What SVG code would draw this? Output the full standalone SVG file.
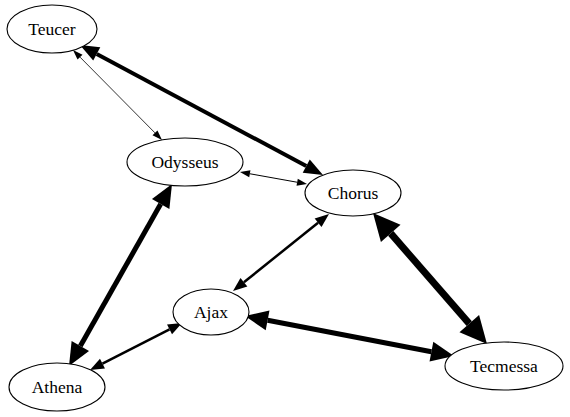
<svg xmlns="http://www.w3.org/2000/svg" width="570" height="417" viewBox="0 0 570 417">
<style>
.node ellipse{fill:#fff;stroke:#000;stroke-width:1.1}
.node text{font-size:17.5px;text-anchor:middle;fill:#000}
.edge{stroke:#000;fill:none}
.mk{fill:#000;stroke:none}
</style>
<defs>
<marker id="a1" markerUnits="userSpaceOnUse" viewBox="0 -4 10 8" markerWidth="10" markerHeight="8" refX="0" refY="0" orient="auto-start-reverse" overflow="visible"><path class="mk" d="M0,-3.5L10,0L0,3.5z"/></marker>
<marker id="a2" markerUnits="userSpaceOnUse" viewBox="0 -6 14 12" markerWidth="14" markerHeight="12" refX="0" refY="0" orient="auto-start-reverse" overflow="visible"><path class="mk" d="M0,-5.5L14,0L0,5.5z"/></marker>
<marker id="a4" markerUnits="userSpaceOnUse" viewBox="0 -8 19 16" markerWidth="19" markerHeight="16" refX="0" refY="0" orient="auto-start-reverse" overflow="visible"><path class="mk" d="M0,-7.5L19,0L0,7.5z"/></marker>
<marker id="a5" markerUnits="userSpaceOnUse" viewBox="0 -10 23 20" markerWidth="23" markerHeight="20" refX="0" refY="0" orient="auto-start-reverse" overflow="visible"><path class="mk" d="M0,-10L23,0L0,10z"/></marker>
<marker id="a7" markerUnits="userSpaceOnUse" viewBox="0 -13 27 26" markerWidth="27" markerHeight="26" refX="0" refY="0" orient="auto-start-reverse" overflow="visible"><path class="mk" d="M0,-13L27,0L0,13z"/></marker>
</defs>
<g id="edges">
<path class="edge" stroke-width="4" marker-start="url(#a4)" marker-end="url(#a4)" d="M96.75,53.96L306.25,166.04"/>
<path class="edge" stroke-width="0.8" marker-start="url(#a1)" marker-end="url(#a1)" d="M80.03,57.11L154.97,132.89"/>
<path class="edge" stroke-width="1" marker-start="url(#a1)" marker-end="url(#a1)" d="M249.84,173.76L297.16,182.24"/>
<path class="edge" stroke-width="5" marker-start="url(#a5)" marker-end="url(#a5)" d="M160.67,204.02L80.33,345.98"/>
<path class="edge" stroke-width="2.5" marker-start="url(#a2)" marker-end="url(#a2)" d="M318.08,222.76L243.92,282.24"/>
<path class="edge" stroke-width="2.5" marker-start="url(#a2)" marker-end="url(#a2)" d="M169.53,329.37L102.47,363.63"/>
<path class="edge" stroke-width="7" marker-start="url(#a7)" marker-end="url(#a7)" d="M390.72,233.37L469.28,323.63"/>
<path class="edge" stroke-width="5" marker-start="url(#a5)" marker-end="url(#a5)" d="M267.59,320.32L431.41,351.68"/>
</g>
<g font-family="'Liberation Serif', 'DejaVu Serif', serif">
<g id="Teucer" class="node"><ellipse cx="52" cy="29" rx="45" ry="24"/><text x="52" y="35">Teucer</text></g>
<g id="Odysseus" class="node"><ellipse cx="185" cy="162" rx="58" ry="24"/><text x="185" y="168">Odysseus</text></g>
<g id="Chorus" class="node"><ellipse cx="353" cy="193" rx="48" ry="23"/><text x="353" y="199">Chorus</text></g>
<g id="Ajax" class="node"><ellipse cx="211" cy="312" rx="38" ry="23"/><text x="211" y="318">Ajax</text></g>
<g id="Athena" class="node"><ellipse cx="57" cy="387" rx="48" ry="24"/><text x="57" y="393">Athena</text></g>
<g id="Tecmessa" class="node"><ellipse cx="504" cy="366" rx="59" ry="24"/><text x="504" y="372">Tecmessa</text></g>
</g>
</svg>
